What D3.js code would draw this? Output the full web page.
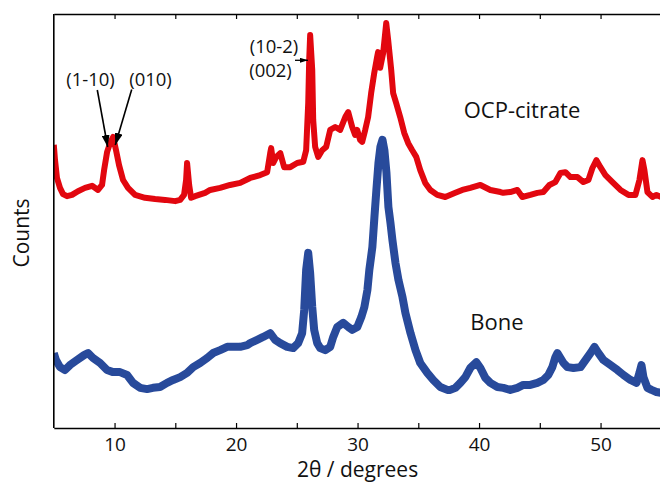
<!DOCTYPE html>
<html>
<head>
<meta charset="utf-8">
<script src="https://cdn.jsdelivr.net/npm/d3@7"></script>
<style>
  html, body { margin: 0; padding: 0; background: #fff; }
  svg { display: block; font-family: "Open Sans", "Noto Sans", sans-serif; }
</style>
</head>
<body>
<div id="chart"></div>
<script>
// ---------- data ----------
const ocpTwoTheta = [5.0,5.10,5.26,5.51,5.76,6.09,6.50,6.99,7.57,8.15,8.64,8.97,9.14,9.39,9.63,9.88,10.12,10.37,10.70,11.11,11.69,12.51,13.34,14.16,14.99,15.40,15.72,15.89,15.97,16.14,16.30,16.63,17.45,17.87,18.69,19.51,20.34,21.16,21.99,22.56,22.81,22.89,23.06,23.31,23.64,23.96,24.46,25.03,25.53,25.77,25.94,26.02,26.10,26.27,26.35,26.51,26.76,27.09,27.42,27.75,28.16,28.57,28.99,29.23,29.56,29.80,29.97,30.21,30.38,30.63,30.87,31.12,31.37,31.61,31.69,31.86,32.11,32.36,32.52,32.77,32.93,33.18,33.51,33.84,34.17,34.50,34.83,35.16,35.57,35.99,36.56,37.22,38.05,38.62,39.28,40.11,40.93,41.76,41.99,42.57,43.15,43.56,44.22,44.80,45.29,45.79,46.28,46.70,47.11,47.52,48.10,48.59,49.00,49.33,49.66,49.99,50.40,50.98,51.64,52.30,52.87,53.20,53.45,53.61,53.86,54.27,54.60,55.0];
const ocpCounts = [684,647,604,580,565,560,563,572,580,585,575,587,623,667,688,703,671,635,599,580,563,556,553,551,548,551,563,599,640,587,556,560,568,575,580,587,592,604,611,618,664,676,640,655,664,630,630,640,643,671,785,889,949,865,744,679,655,671,679,720,727,720,751,763,727,708,720,696,691,720,751,809,857,896,908,870,906,978,937,865,809,785,751,713,688,671,655,623,592,575,563,558,568,575,580,587,575,570,568,570,575,558,563,568,570,587,594,616,618,606,606,594,599,628,647,630,611,594,575,563,563,599,647,623,570,558,563,558];

const boneTwoTheta = [5.0,5.18,5.51,5.92,6.33,6.91,7.49,7.82,8.23,8.81,9.38,9.88,10.45,11.03,11.52,12.10,12.68,13.16,13.74,14.32,14.82,15.40,15.97,16.47,17.04,17.62,18.11,18.69,19.27,19.76,20.34,20.91,21.16,21.74,22.23,22.81,23.22,23.63,24.21,24.70,25.11,25.44,25.61,25.77,25.94,26.10,26.27,26.43,26.68,26.93,27.34,27.75,28.00,28.33,28.82,29.24,29.56,29.98,30.31,30.56,30.81,30.97,31.22,31.39,31.55,31.72,31.88,32.05,32.21,32.38,32.54,32.71,32.87,33.12,33.37,33.70,33.94,34.36,34.77,35.16,35.74,36.23,36.81,37.39,37.63,38.05,38.46,38.87,39.28,39.78,40.11,40.52,40.93,41.51,42.00,42.57,43.15,43.64,44.22,44.80,45.29,45.70,46.03,46.28,46.45,46.70,46.95,47.28,47.77,48.35,48.76,49.17,49.50,49.83,50.24,50.82,51.39,51.89,52.46,52.96,53.20,53.37,53.53,53.86,54.19,54.60,55.0];
const boneCounts = [181,164,147,140,152,164,176,181,169,157,140,135,135,128,109,97,94,97,99,109,116,123,133,147,157,169,181,188,196,196,196,200,205,213,220,229,213,205,196,193,205,229,285,382,423,374,292,237,205,193,188,196,220,244,254,244,237,244,268,292,333,382,437,510,575,640,679,696,671,616,534,495,454,399,357,316,278,229,188,157,133,116,99,92,92,97,109,123,145,159,145,121,109,99,97,92,97,104,104,109,116,128,147,171,181,169,157,147,145,147,164,181,196,181,164,152,140,128,116,109,133,152,123,97,92,87,85];

const xTicks = [10,15,20,25,30,35,40,45,50];
const xTickLabels = ["10","","20","","30","","40","","50"];
const seriesNames = ["OCP-citrate", "Bone"];
const peakLabels = ["(1-10)", "(010)", "(10-2)", "(002)"];

// ---------- layout ----------
const W = 660, H = 483;
const plot = { left: 53.8, right: 661.3, top: 14, bottom: 428 };
const red = "#e2070f", blue = "#284a9b";

const svg = d3.select("#chart").append("svg").attr("width", W).attr("height", H);

const x = d3.scaleLinear().domain([5, 55]).range([plot.left, plot.right]);
const y = d3.scaleLinear().domain([0, 1000]).range([plot.bottom, plot.top]);

const defs = svg.append("defs");
defs.append("clipPath").attr("id", "clip").append("rect")
  .attr("x", plot.left).attr("y", plot.top).attr("width", plot.right - plot.left).attr("height", plot.bottom - plot.top);
defs.append("marker").attr("id", "ahBig").attr("viewBox", "0 0 12 8")
  .attr("refX", 12).attr("refY", 4).attr("markerWidth", 12).attr("markerHeight", 8)
  .attr("markerUnits", "userSpaceOnUse").attr("orient", "auto")
  .append("path").attr("d", "M0,0 L12,4 L0,8 Z").attr("fill", "#000");
defs.append("marker").attr("id", "ahSmall").attr("viewBox", "0 0 8 5")
  .attr("refX", 8).attr("refY", 2.5).attr("markerWidth", 8).attr("markerHeight", 5)
  .attr("markerUnits", "userSpaceOnUse").attr("orient", "auto")
  .append("path").attr("d", "M0,0 L8,2.5 L0,5 Z").attr("fill", "#000");

// ---------- series ----------
const line = d3.line().x(d => x(d[0])).y(d => y(d[1]));
const g = svg.append("g").attr("clip-path", "url(#clip)");
const ocp = ocpTwoTheta.map((t, i) => [t, ocpCounts[i]]);
const bone = boneTwoTheta.map((t, i) => [t, boneCounts[i]]);
g.append("path").datum(bone).attr("d", line)
  .attr("fill", "none").attr("stroke", blue).attr("stroke-width", 8)
  .attr("stroke-linejoin", "round").attr("stroke-linecap", "butt");
g.append("path").datum(ocp).attr("d", line)
  .attr("fill", "none").attr("stroke", red).attr("stroke-width", 6)
  .attr("stroke-linejoin", "round").attr("stroke-linecap", "butt");

// ---------- axes ----------
const xAxisB = d3.axisBottom(x).tickValues(xTicks).tickSizeInner(-5).tickSizeOuter(0)
  .tickPadding(10).tickFormat((d, i) => xTickLabels[i]);
const gb = svg.append("g").attr("transform", `translate(0,${plot.bottom})`).call(xAxisB);
gb.select(".domain").attr("stroke", "#000").attr("stroke-width", 1.6);
gb.selectAll(".tick line").attr("stroke", "#000").attr("stroke-width", 1.2);
gb.selectAll(".tick text").attr("font-size", 19).attr("fill", "#111")
  .attr("font-family", "'Open Sans', sans-serif").attr("dy", "0.71em");

const xAxisT = d3.axisTop(x).tickValues(xTicks).tickSizeInner(-5).tickSizeOuter(0).tickFormat("");
const gt = svg.append("g").attr("transform", `translate(0,${plot.top})`).call(xAxisT);
gt.select(".domain").attr("stroke", "#000").attr("stroke-width", 1.6);
gt.selectAll(".tick line").attr("stroke", "#000").attr("stroke-width", 1.2);

svg.append("line").attr("x1", plot.left).attr("x2", plot.left)
  .attr("y1", plot.top).attr("y2", plot.bottom).attr("stroke", "#000").attr("stroke-width", 1.6);

// axis titles
svg.append("text").attr("x", x(30)).attr("y", 477).attr("text-anchor", "middle")
  .attr("font-size", 21).attr("fill", "#111").text("2θ / degrees");
svg.append("text").attr("transform", `translate(29,233) rotate(-90)`).attr("text-anchor", "middle")
  .attr("font-size", 21).attr("fill", "#111").text("Counts");

// series labels
svg.append("text").attr("x", 522).attr("y", 118).attr("text-anchor", "middle")
  .attr("font-size", 22).attr("fill", "#111").text(seriesNames[0]);
svg.append("text").attr("x", 497).attr("y", 330).attr("text-anchor", "middle")
  .attr("font-size", 22).attr("fill", "#111").text(seriesNames[1]);

// peak annotations
const ann = svg.append("g").attr("font-size", 18.5).attr("fill", "#111").attr("text-anchor", "middle");
ann.append("text").attr("x", 90.5).attr("y", 86).text(peakLabels[0]);
ann.append("text").attr("x", 150.5).attr("y", 86).text(peakLabels[1]);
ann.append("text").attr("x", 274).attr("y", 53).text(peakLabels[2]);
ann.append("text").attr("x", 270.5).attr("y", 77).text(peakLabels[3]);

svg.append("line").attr("x1", 97.3).attr("y1", 90).attr("x2", 107.7).attr("y2", 147)
  .attr("stroke", "#000").attr("stroke-width", 1.6).attr("marker-end", "url(#ahBig)");
svg.append("line").attr("x1", 131.7).attr("y1", 89.5).attr("x2", 115.3).attr("y2", 145)
  .attr("stroke", "#000").attr("stroke-width", 1.6).attr("marker-end", "url(#ahBig)");
svg.append("line").attr("x1", 295).attr("y1", 60.3).attr("x2", 308).attr("y2", 60.3)
  .attr("stroke", "#000").attr("stroke-width", 1.3).attr("marker-end", "url(#ahSmall)");
</script>
</body>
</html>
